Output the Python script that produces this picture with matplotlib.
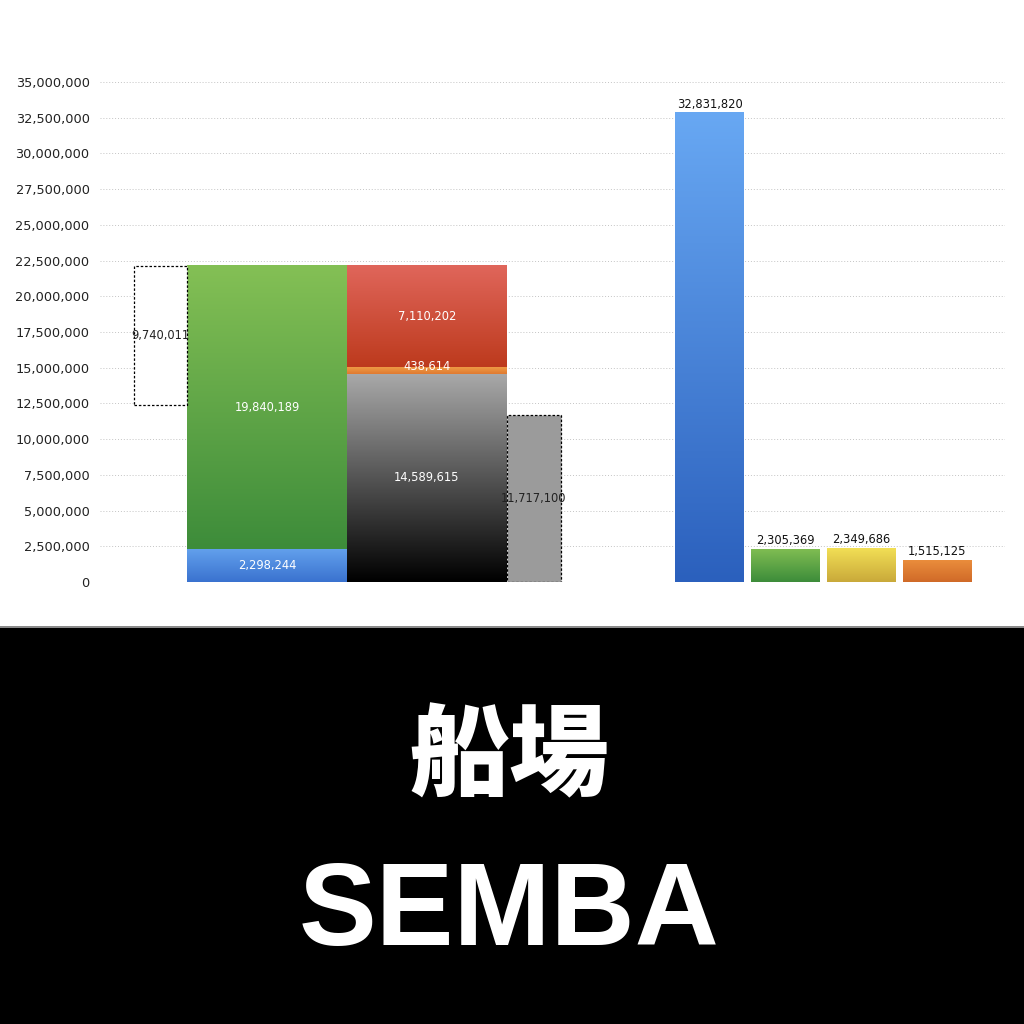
import matplotlib
matplotlib.use("Agg")
import matplotlib.pyplot as plt
import numpy as np
from matplotlib.colors import LinearSegmentedColormap
from matplotlib.patches import Rectangle

# ---- data ----
left_total_blue = 2298244
left_total_green = 19840189
right_black = 14589615
right_orange = 438614
right_red = 7110202
dashed_box_value = 9740011
gray_box_value = 11717100
right_bar_values = [32831820, 2305369, 2349686, 1515125]
y_ticks = list(range(0, 35000001, 2500000))

# ---- styles ----
GRAD = {
    "blue_small": ("#62a0ec", "#3a72cf"),
    "green": ("#84c055", "#3d8c3a"),
    "black": ("#a9a9a9", "#000000"),
    "orange": ("#ee9a45", "#e07a30"),
    "red": ("#e0665b", "#bd3a1d"),
    "blue_big": ("#68a8f3", "#2b60bd"),
    "green_r": ("#7fbd52", "#3d8c3a"),
    "yellow": ("#f2df55", "#c9a93a"),
    "orange_r": ("#ea8d3c", "#d06a28"),
}

fig = plt.figure(figsize=(10.24, 10.24), dpi=100)
fig.patch.set_facecolor("white")

W = 1024.0
ax = fig.add_axes([100 / W, (1024 - 582) / W, (1005 - 100) / W, 500 / W])
ax.set_xlim(100, 1005)
ax.set_ylim(0, 35000000)
for s in ax.spines.values():
    s.set_visible(False)
ax.set_yticks(y_ticks)
ax.set_yticklabels([f"{v:,}" for v in y_ticks])
ax.tick_params(axis="y", length=0, pad=7.5, labelsize=9.3, colors="#222222")
ax.tick_params(axis="x", length=0, labelbottom=False)
ax.yaxis.grid(True, linestyle=(0, (1, 2)), color="#c4c4c4", linewidth=0.7)
ax.set_axisbelow(True)


def grad_bar(x0, width, bottom, height, key, z=2):
    top_c, bot_c = GRAD[key]
    bars = ax.bar(x0, height, width=width, bottom=bottom, align="edge",
                  color=bot_c, linewidth=0, zorder=z)
    cmap = LinearSegmentedColormap.from_list(key, [bot_c, top_c])
    grad = np.linspace(0, 1, 256).reshape(-1, 1)
    ax.imshow(grad, cmap=cmap, origin="lower", aspect="auto",
              extent=(x0, x0 + width, bottom, bottom + height),
              zorder=z + 0.1, interpolation="bicubic")
    return bars


def label(x, y, v, color="white", size=8.3):
    ax.text(x, y, f"{v:,}", ha="center", va="center", color=color,
            fontsize=size, zorder=10)


# left stacked bar (blue + green)
grad_bar(187, 160, 0, left_total_blue, "blue_small")
grad_bar(187, 160, left_total_blue, left_total_green, "green")
label(267, left_total_blue / 2, left_total_blue)
label(267, left_total_blue + left_total_green / 2, left_total_green)

total = left_total_blue + left_total_green

# dashed box
ax.bar(134, dashed_box_value, width=53, bottom=total - dashed_box_value,
       align="edge", facecolor="white", edgecolor="black", linewidth=0.9,
       linestyle=(0, (2, 1.5)), zorder=3)
label(160, total - dashed_box_value / 2, dashed_box_value, color="#222222")

# right stacked (black, orange, red)
grad_bar(347, 160, 0, right_black, "black")
grad_bar(347, 160, right_black, right_orange, "orange")
grad_bar(347, 160, right_black + right_orange, right_red, "red")
label(427, right_black / 2, right_black)
label(427, right_black + right_orange / 2 + 250000, right_orange)
label(427, right_black + right_orange + right_red / 2, right_red)

# gray dashed bar
ax.bar(507, gray_box_value, width=54, bottom=0, align="edge",
       facecolor="#9b9b9b", edgecolor="black", linewidth=0.9,
       linestyle=(0, (2, 1.5)), zorder=3)
label(534, gray_box_value / 2, gray_box_value, color="#222222")

# right group
keys = ["blue_big", "green_r", "yellow", "orange_r"]
xs = [675, 751, 827, 903]
for x0, v, k in zip(xs, right_bar_values, keys):
    grad_bar(x0, 69, 0, v, k)
    ax.text(x0 + 34.5, v + 150000, f"{v:,}", ha="center", va="bottom",
            color="#111111", fontsize=8.3, zorder=10)

# bottom black panel
fig.patches.append(Rectangle((0, 0), 1, 396 / W, transform=fig.transFigure,
                             facecolor="black", edgecolor="none", zorder=0))
fig.patches.append(Rectangle((0, 396 / W), 1, 2.5 / W, transform=fig.transFigure,
                             facecolor="#8a8a8a", edgecolor="none", zorder=0))

fig.text(509 / W, 1 - 759 / W, "船場", ha="center", va="center", color="white",
         fontsize=72, fontweight=900, family=["Noto Sans CJK JP", "DejaVu Sans"])
fig.text(509 / W, 1 - 914 / W, "SEMBA", ha="center", va="center", color="white",
         fontsize=84, fontweight="bold", family=["Liberation Sans", "DejaVu Sans"])

fig.savefig("out.png", dpi=100, facecolor="white")
